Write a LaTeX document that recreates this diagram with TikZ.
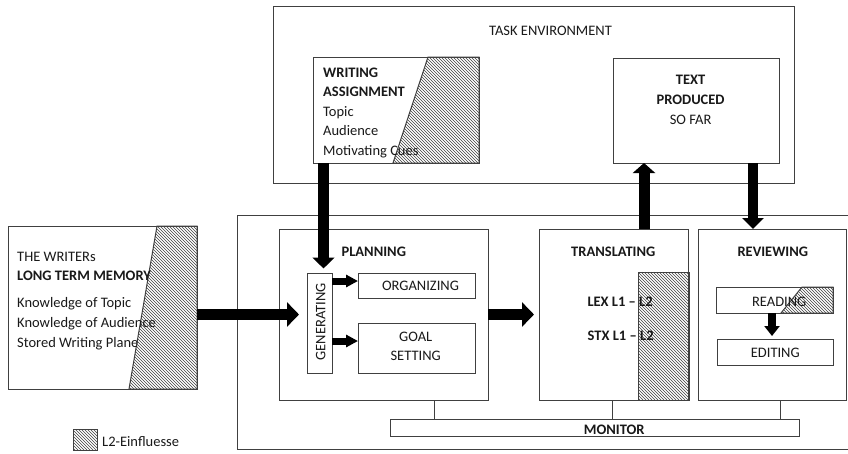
\documentclass[tikz,border=0pt]{standalone}
\usepackage{fontspec}
\setmainfont{Carlito}
\usetikzlibrary{arrows.meta,patterns}
\begin{document}
\begin{tikzpicture}[x=1pt,y=-1pt,
  lc/.style={draw=black!75, line width=1pt},
  box/.style={lc, rectangle, inner sep=0pt, outer sep=0pt},
  hatch/.style={lc, pattern=north west lines, pattern color=black!75},
  txt/.style={inner sep=0pt, anchor=base, font=\fontsize{14.5}{19.6}\selectfont, text=black!90},
  ltxt/.style={txt, anchor=base west},
  btxt/.style={txt, font=\fontsize{14.5}{19.6}\selectfont\bfseries},
  lbtxt/.style={btxt, anchor=base west},
  bigh/.style={line width=11pt, -{Triangle[width=24pt,length=12pt]}},
  bigv/.style={line width=11pt, -{Triangle[width=21.5pt,length=11pt]}},
  smallh/.style={line width=7pt, -{Triangle[width=12pt,length=12pt]}},
  smallv/.style={line width=8pt, -{Triangle[width=15pt,length=10pt]}}
]
\useasboundingbox (0,0) rectangle (848,453);
\fill[white] (0,0) rectangle (848,453);

% boxes
\node[box, minimum width=521pt, minimum height=177pt] (task) at (533.5,94.5) {};
\node[box, minimum width=166pt, minimum height=106pt] (wa) at (396,110) {};
\node[box, minimum width=166pt, minimum height=105pt] (tp) at (696,110.5) {};
\node[box, minimum width=615pt, minimum height=234pt] (proc) at (544.5,332) {};
\node[box, minimum width=189pt, minimum height=163pt] (ltm) at (102.5,307.5) {};
\node[box, minimum width=209pt, minimum height=171pt] (plan) at (383.5,314.5) {};
\node[box, minimum width=25pt, minimum height=100pt] (gen) at (319.5,323) {};
\node[box, minimum width=117pt, minimum height=25pt] (org) at (416.5,285.5) {};
\node[box, minimum width=117pt, minimum height=50pt] (goal) at (416.5,348) {};
\node[box, minimum width=149pt, minimum height=171pt] (trans) at (613.5,314.5) {};
\node[box, minimum width=148pt, minimum height=171pt] (rev) at (772,314.5) {};
\node[box, minimum width=117pt, minimum height=26pt] (read) at (774.5,300) {};
\node[box, minimum width=116pt, minimum height=26pt] (edit) at (775,352) {};
\node[box, minimum width=409pt, minimum height=17pt] (mon) at (594.5,427.5) {};

% hatched L2 influences
\draw[hatch] ([xshift=-51pt]wa.north east) -- (wa.north east) -- (wa.south east) -- ([xshift=-86pt]wa.south east) -- cycle;
\draw[hatch] ([xshift=-40pt]ltm.north east) -- (ltm.north east) -- (ltm.south east) -- ([xshift=-68pt]ltm.south east) -- cycle;
\draw[hatch] ([xshift=-31pt]read.north east) -- (read.north east) -- (read.south east) -- ([xshift=-52pt]read.south east) -- cycle;
\coordinate (th) at ([xshift=-50pt,yshift=-43pt]trans.north east);
\draw[hatch] (th) rectangle ([xshift=1pt]trans.south east);
\node[box, hatch, minimum width=24pt, minimum height=21pt] (leg) at (85,439.5) {};

% texts
\node[txt] (tasklbl) at (550.5,35) {TASK ENVIRONMENT};
\node[lbtxt] (wa1) at (323,77) {WRITING};
\node[lbtxt] (wa2) at (323,96.6) {ASSIGNMENT};
\node[ltxt] (wa3) at (323,116.2) {Topic};
\node[ltxt] (wa4) at (323,135.8) {Audience};
\node[ltxt] (wa5) at (323,155.4) {Motivating Cues};
\node[btxt] (tp1) at (690.6,84.3) {TEXT};
\node[btxt] (tp2) at (690.6,104) {PRODUCED};
\node[txt] (tp3) at (690.6,124) {SO FAR};
\node[ltxt] (ltm1) at (17,261.7) {THE WRITERs};
\node[lbtxt] (ltm2) at (17,280.7) {LONG TERM MEMORY};
\node[ltxt] (ltm3) at (17,307.7) {Knowledge of Topic};
\node[ltxt] (ltm4) at (17,327.3) {Knowledge of Audience};
\node[ltxt] (ltm5) at (17,347) {Stored Writing Plane};
\node[btxt] (planlbl) at (373.8,256) {PLANNING};
\node[txt, anchor=center, rotate=90] (genlbl) at (320.8,322) {GENERATING};
\node[txt] (orglbl) at (420.5,290.7) {ORGANIZING};
\node[txt] (goal1) at (415.7,341) {GOAL};
\node[txt] (goal2) at (415.7,360.7) {SETTING};
\node[btxt] (translbl) at (613.3,256) {TRANSLATING};
\node[lbtxt] (lex) at (587.3,306) {LEX L1 – L2};
\node[lbtxt] (stx) at (587.5,340.7) {STX L1 – L2};
\node[btxt] (revlbl) at (772.8,256) {REVIEWING};
\node[txt] (readlbl) at (779.2,306) {READING};
\node[txt] (editlbl) at (775.3,357.3) {EDITING};
\node[btxt] (monlbl) at (614.2,434) {MONITOR};
\node[ltxt] (leglbl) at (102,446) {L2-Einfluesse};

% monitor connectors
\coordinate (m1) at ([xshift=50.5pt]plan.south);
\coordinate (m2) at ([xshift=-1.5pt]trans.south);
\coordinate (m3) at ([xshift=8pt]rev.south);
\draw[lc] (m1) -- (m1 |- mon.north);
\draw[lc] (m2) -- (m2 |- mon.north);
\draw[lc] (m3) -- (m3 |- mon.north);

% block arrows
\coordinate (waA) at ([xshift=4pt]gen.north);
\draw[bigv, shorten >=4.5pt] (waA |- wa.south) -- (waA);
\coordinate (upA) at ([xshift=30.5pt]trans.north);
\draw[line width=11pt, -{Triangle[width=22pt,length=10pt]}] (upA) -- (upA |- tp.south);
\coordinate (dnA) at ([xshift=-19pt]rev.north);
\draw[line width=10.5pt, -{Triangle[width=21pt,length=11pt]}] (dnA |- tp.south) -- (dnA);
\draw[bigh] (ltm.east |- plan.west) -- ([xshift=20pt]plan.west);
\draw[bigh, shorten >=5pt] (plan.east) -- (trans.west);
\coordinate (o1) at ([yshift=4.5pt]org.west);
\coordinate (g1) at ([yshift=7pt]goal.west);
\draw[smallh] (gen.east |- o1) -- (o1);
\draw[smallh] (gen.east |- g1) -- (g1);
\coordinate (reA) at ([xshift=-2.5pt]read.south);
\draw[smallv, shorten >=3pt] (reA) -- (reA |- edit.north);
\end{tikzpicture}
\end{document}
